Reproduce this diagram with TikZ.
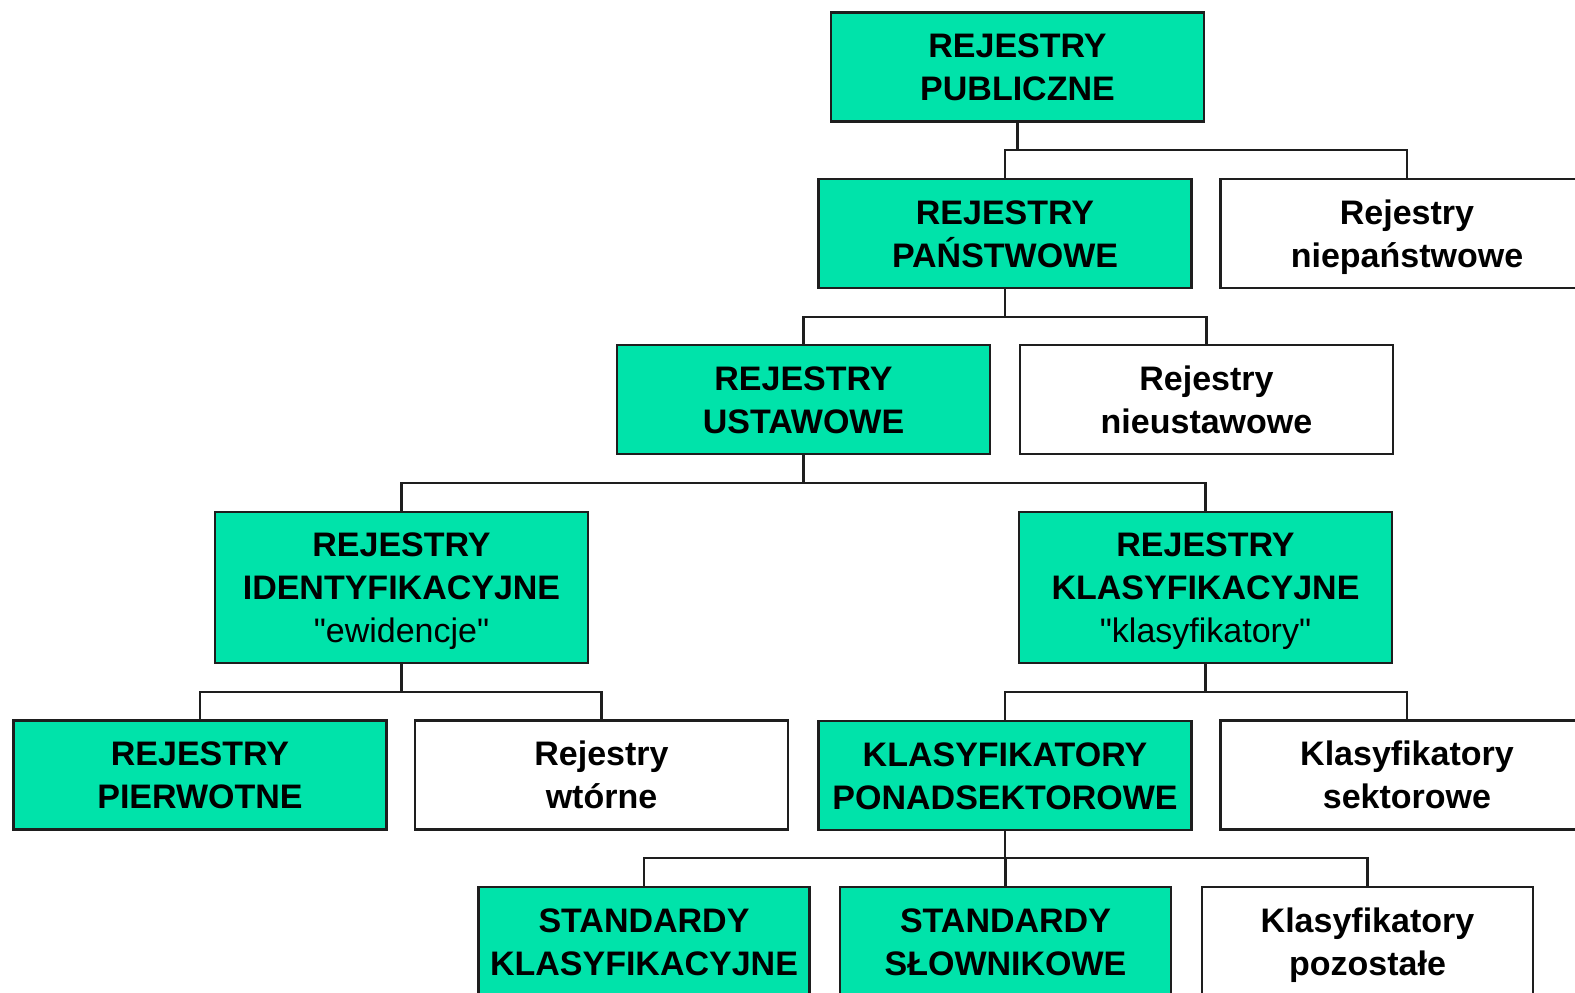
\documentclass[tikz,border=0pt]{standalone}
\usepackage{fontspec}
\setmainfont{Liberation Sans}[Ligatures=TeXOff]
\definecolor{boxgreen}{RGB}{0,227,170}
\definecolor{edgegray}{RGB}{30,30,30}
\begin{document}
\begin{tikzpicture}[x=1pt,y=-1pt,
  basebox/.style={draw=edgegray, line width=2.2pt, inner sep=0pt, align=center,
    minimum width=373pt, minimum height=109pt,
    font=\fontsize{34}{43}\selectfont\bfseries, text height=67.3pt, text depth=0pt},
  gbox/.style={basebox, fill=boxgreen},
  wbox/.style={basebox, fill=white},
  tall/.style={minimum height=151pt, text height=110.3pt, text depth=0pt},
  narrow/.style={minimum width=331pt},
  conn/.style={draw=edgegray, line width=2.2pt, line cap=rect, line join=miter}]
\useasboundingbox (0,0) rectangle (1575,993);
\clip (0,0) rectangle (1575,993);
\fill[white] (0,0) rectangle (1575,993);

% bus levels
\coordinate (b1) at (0,150);
\coordinate (b2) at (0,317);
\coordinate (b3) at (0,483);
\coordinate (b4) at (0,692);
\coordinate (b5) at (0,858);

% boxes
\node[gbox] (pub) at (1017.5,67) {REJESTRY\\PUBLICZNE};
\node[gbox] (pan) at (1005,233.5) {REJESTRY\\PAŃSTWOWE};
\node[wbox] (niep) at (1407,233.5) {Rejestry\\niepaństwowe};
\node[gbox] (ust) at (803.5,399.5) {REJESTRY\\USTAWOWE};
\node[wbox] (nieu) at (1206.5,399.5) {Rejestry\\nieustawowe};
\node[gbox,tall] (ident) at (401.5,587.5) {REJESTRY\\IDENTYFIKACYJNE\\{\mdseries "ewidencje"}};
\node[gbox,tall] (klas) at (1205.5,587.5) {REJESTRY\\KLASYFIKACYJNE\\{\mdseries "klasyfikatory"}};
\node[gbox] (pierw) at (200,775) {REJESTRY\\PIERWOTNE};
\node[wbox] (wtor) at (601.5,775) {Rejestry\\wtórne};
\node[gbox] (ponad) at (1005,775.5) {KLASYFIKATORY\\PONADSEKTOROWE};
\node[wbox] (sekt) at (1407,775) {Klasyfikatory\\sektorowe};
\node[gbox,narrow] (stk) at (644,941.5) {STANDARDY\\KLASYFIKACYJNE};
\node[gbox,narrow] (sts) at (1005.5,941.5) {STANDARDY\\SŁOWNIKOWE};
\node[wbox,narrow] (poz) at (1367.5,941.5) {Klasyfikatory\\pozostałe};

% connectors
\draw[conn] (pub.south) -- (pub.south |- b1);
\draw[conn] (pan.north) -- (pan.north |- b1) -| (niep.north);
\draw[conn] (pan.south) -- (pan.south |- b2);
\draw[conn] (ust.north) -- (ust.north |- b2) -| (nieu.north);
\draw[conn] (ust.south) -- (ust.south |- b3);
\draw[conn] (ident.north) -- (ident.north |- b3) -| (klas.north);
\draw[conn] (ident.south) -- (ident.south |- b4);
\draw[conn] (pierw.north) -- (pierw.north |- b4) -| (wtor.north);
\draw[conn] (klas.south) -- (klas.south |- b4);
\draw[conn] (ponad.north) -- (ponad.north |- b4) -| (sekt.north);
\draw[conn] (ponad.south) -- (ponad.south |- b5);
\draw[conn] (stk.north) -- (stk.north |- b5) -| (poz.north);
\draw[conn] (sts.north) -- (sts.north |- b5);
\end{tikzpicture}
\end{document}
